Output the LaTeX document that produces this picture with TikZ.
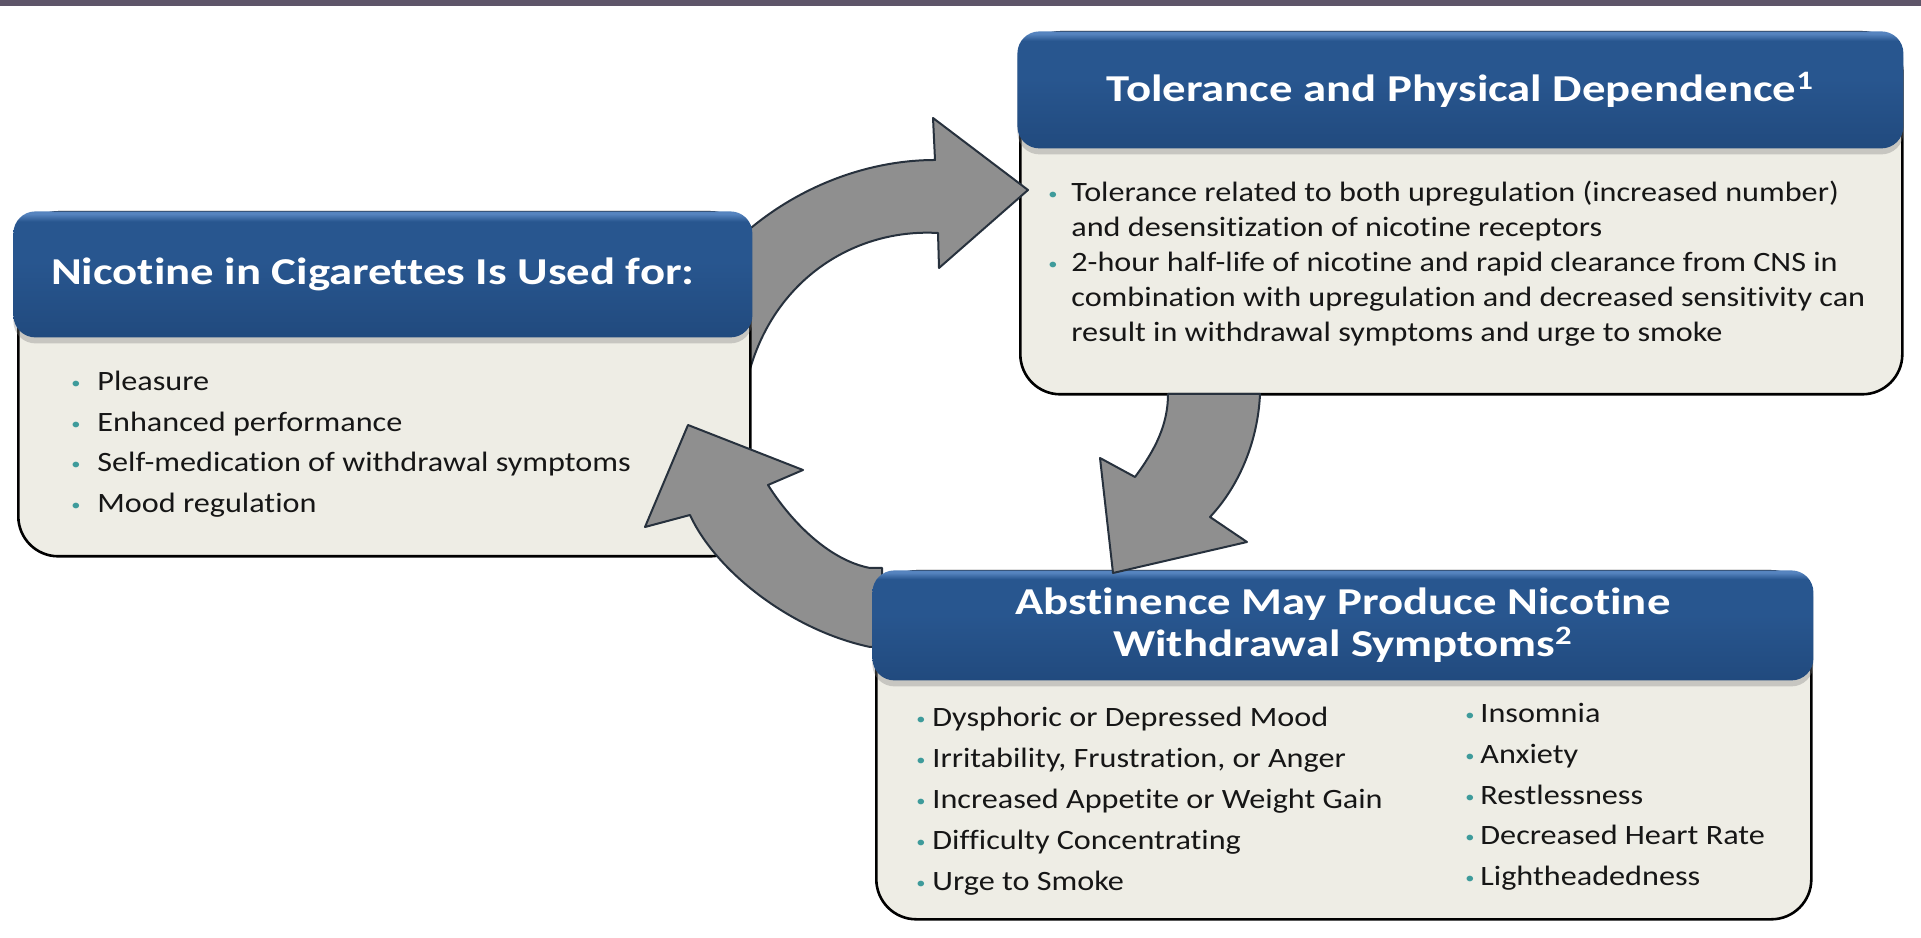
\documentclass[tikz,border=0pt]{standalone}
\usepackage{fontspec}
\setmainfont{Carlito}[FakeStretch=1.15,Ligatures=NoCommon]
\newfontfamily\bannerfont{Carlito}[FakeStretch=1.23,Ligatures=NoCommon]
\usepackage{tikz}
\usetikzlibrary{shadows}

\definecolor{topbar}{HTML}{5E5569}
\definecolor{bannerblue}{HTML}{28568F}
\definecolor{bannertop}{HTML}{5684BF}
\definecolor{bannerlow}{HTML}{214A7E}
\definecolor{panelfill}{HTML}{EEEDE5}
\definecolor{arrowgray}{HTML}{8F8F8F}
\definecolor{arrowedge}{HTML}{27313D}
\definecolor{dotcol}{HTML}{3E9B9B}
\definecolor{ink}{HTML}{161616}

\pgfdeclareverticalshading{banner}{100bp}{color(0bp)=(bannerlow); color(25bp)=(bannerlow); color(55bp)=(bannerblue); color(71bp)=(bannerblue); color(74bp)=(bannertop); color(75bp)=(bannertop); color(100bp)=(bannertop)}
\newcommand{\pip}{\raisebox{1pt}{\textcolor{dotcol}{\fontsize{8}{8}\selectfont •}}}

\begin{document}
\begin{tikzpicture} [
  x=0.5pt, y=0.5pt,
  panel/.style={rectangle,draw=black,line width=1.3pt,fill=panelfill,rounded corners=20pt,anchor=north west,inner sep=0pt},
  banner/.style={rectangle,rounded corners=11pt,shading=banner,anchor=north west,inner sep=0pt,
    drop shadow={opacity=0.35,shadow xshift=0pt,shadow yshift=-3pt},
    text=white,font=\bannerfont\bfseries\fontsize{19}{21}\selectfont,align=center},
  items/.style={anchor=base west,inner sep=0pt,text=ink},
  curlarrow/.style={fill=arrowgray,draw=arrowedge,line width=1pt,line join=round}]

\useasboundingbox (0,0) rectangle (1921,937);
\fill[topbar] (0,931) rectangle (1921,937);

\node[panel,minimum width=441pt,minimum height=181pt] (tolbody) at (1019,906) {};
\node[banner,minimum width=443pt,minimum height=58.5pt] (tolhead) at (1017,906)
  {Tolerance and Physical Dependence\textsuperscript{1}};
\node[items] (tollist) at (1048,735) {\fontsize{14}{17.5}\selectfont
  \begin{tabular}[t]{@{}p{11.5pt}@{}l@{}}
    \pip & Tolerance related to both upregulation (increased number)\\
         & and desensitization of nicotine receptors\\
    \pip & 2-hour half-life of nicotine and rapid clearance from CNS in\\
         & combination with upregulation and decreased sensitivity can\\
         & result in withdrawal symptoms and urge to smoke\\
  \end{tabular}};

\draw[curlarrow] (745,704) .. controls (800,752) and (870,777) .. (935,777)
  -- (933,819) -- (1028,747) -- (939,669) -- (938,704)
  .. controls (850,709) and (765,652) .. (745,547) -- cycle;

\node[panel,minimum width=366pt,minimum height=172pt] (usebody) at (17,726) {};
\node[banner,minimum width=369.5pt,minimum height=63pt] (usehead) at (13,726)
  {Nicotine in Cigarettes Is Used for:\hspace*{10pt}};
\node[items] (uselist) at (71,546) {\fontsize{14}{20.2}\selectfont
  \begin{tabular}[t]{@{}p{13pt}@{}l@{}}
    \pip & Pleasure\\
    \pip & Enhanced performance\\
    \pip & Self-medication of withdrawal symptoms\\
    \pip & Mood regulation\\
  \end{tabular}};

\draw[curlarrow] (882,369) -- (870,369) .. controls (828,377) and (790,417) .. (768,452)
  -- (803,467) -- (688,512) -- (645,410) -- (690,422)
  .. controls (715,367) and (790,307) .. (870,290) -- (882,290) -- cycle;

\node[panel,minimum width=467.5pt,minimum height=174pt] (absbody) at (875,367) {};
\node[banner,minimum width=470.5pt,minimum height=55pt] (abshead) at (872,367)
  {Abstinence May Produce Nicotine\\Withdrawal Symptoms\textsuperscript{2}};
\node[items] (absleft) at (916,210) {\fontsize{14}{20.5}\selectfont
  \begin{tabular}[t]{@{}p{8pt}@{}l@{}}
    \pip & Dysphoric or Depressed Mood\\
    \pip & Irritability, Frustration, or Anger\\
    \pip & Increased Appetite or Weight Gain\\
    \pip & Difficulty Concentrating\\
    \pip & Urge to Smoke\\
  \end{tabular}};
\node[items] (absright) at (1465,214) {\fontsize{14}{20.3}\selectfont
  \begin{tabular}[t]{@{}p{7.5pt}@{}l@{}}
    \pip & Insomnia\\
    \pip & Anxiety\\
    \pip & Restlessness\\
    \pip & Decreased Heart Rate\\
    \pip & Lightheadedness\\
  \end{tabular}};

\draw[curlarrow] (1260,543) .. controls (1258,497) and (1240,452) .. (1210,420)
  -- (1247,395) -- (1113,364) -- (1100,479) -- (1135,460)
  .. controls (1155,487) and (1168,512) .. (1168,543) -- cycle;
\end{tikzpicture}
\end{document}
